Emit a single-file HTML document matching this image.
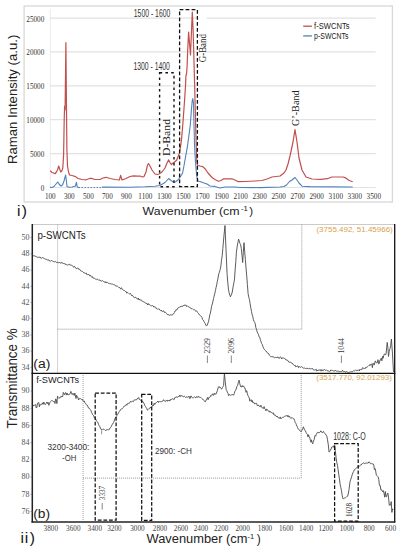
<!DOCTYPE html>
<html><head><meta charset="utf-8"><title>Raman and FTIR spectra</title>
<style>html,body{margin:0;padding:0;background:#fff;width:402px;height:550px;overflow:hidden;font-family:"Liberation Sans",sans-serif;}svg{display:block;}</style>
</head><body>
<svg width="402" height="550" viewBox="0 0 402 550">
<rect width="402" height="550" fill="#fff"/>
<rect x="24.1" y="6" width="368.3" height="196" fill="none" stroke="#d8d8d8" stroke-width="1.3"/>
<line x1="50.3" y1="9" x2="50.3" y2="188" stroke="#ececec" stroke-width="1"/>
<line x1="50.3" y1="18.1" x2="375.7" y2="18.1" stroke="#e2e2e2" stroke-width="1.2"/>
<line x1="50.3" y1="51.9" x2="375.7" y2="51.9" stroke="#e2e2e2" stroke-width="1.2"/>
<line x1="50.3" y1="85.8" x2="375.7" y2="85.8" stroke="#e2e2e2" stroke-width="1.2"/>
<line x1="50.3" y1="119.7" x2="375.7" y2="119.7" stroke="#e2e2e2" stroke-width="1.2"/>
<line x1="50.3" y1="153.6" x2="375.7" y2="153.6" stroke="#e2e2e2" stroke-width="1.2"/>
<line x1="50.3" y1="187.5" x2="375.7" y2="187.5" stroke="#e2e2e2" stroke-width="1.2"/>
<text x="44.3" y="21.5" font-family="'Liberation Serif', serif" font-size="7.2" fill="#333" text-anchor="end">25000</text>
<text x="44.3" y="55.3" font-family="'Liberation Serif', serif" font-size="7.2" fill="#333" text-anchor="end">20000</text>
<text x="44.3" y="89.2" font-family="'Liberation Serif', serif" font-size="7.2" fill="#333" text-anchor="end">15000</text>
<text x="44.3" y="123.1" font-family="'Liberation Serif', serif" font-size="7.2" fill="#333" text-anchor="end">10000</text>
<text x="44.3" y="157.0" font-family="'Liberation Serif', serif" font-size="7.2" fill="#333" text-anchor="end">5000</text>
<text x="44.3" y="190.9" font-family="'Liberation Serif', serif" font-size="7.2" fill="#333" text-anchor="end">0</text>
<text x="50.3" y="198.9" font-family="'Liberation Serif', serif" font-size="7.2" fill="#333" text-anchor="middle">100</text>
<text x="69.3" y="198.9" font-family="'Liberation Serif', serif" font-size="7.2" fill="#333" text-anchor="middle">300</text>
<text x="88.4" y="198.9" font-family="'Liberation Serif', serif" font-size="7.2" fill="#333" text-anchor="middle">500</text>
<text x="107.4" y="198.9" font-family="'Liberation Serif', serif" font-size="7.2" fill="#333" text-anchor="middle">700</text>
<text x="126.4" y="198.9" font-family="'Liberation Serif', serif" font-size="7.2" fill="#333" text-anchor="middle">900</text>
<text x="145.4" y="198.9" font-family="'Liberation Serif', serif" font-size="7.2" fill="#333" text-anchor="middle">1100</text>
<text x="164.5" y="198.9" font-family="'Liberation Serif', serif" font-size="7.2" fill="#333" text-anchor="middle">1300</text>
<text x="183.5" y="198.9" font-family="'Liberation Serif', serif" font-size="7.2" fill="#333" text-anchor="middle">1500</text>
<text x="202.5" y="198.9" font-family="'Liberation Serif', serif" font-size="7.2" fill="#333" text-anchor="middle">1700</text>
<text x="221.6" y="198.9" font-family="'Liberation Serif', serif" font-size="7.2" fill="#333" text-anchor="middle">1900</text>
<text x="240.6" y="198.9" font-family="'Liberation Serif', serif" font-size="7.2" fill="#333" text-anchor="middle">2100</text>
<text x="259.6" y="198.9" font-family="'Liberation Serif', serif" font-size="7.2" fill="#333" text-anchor="middle">2300</text>
<text x="278.7" y="198.9" font-family="'Liberation Serif', serif" font-size="7.2" fill="#333" text-anchor="middle">2500</text>
<text x="297.7" y="198.9" font-family="'Liberation Serif', serif" font-size="7.2" fill="#333" text-anchor="middle">2700</text>
<text x="316.7" y="198.9" font-family="'Liberation Serif', serif" font-size="7.2" fill="#333" text-anchor="middle">2900</text>
<text x="335.8" y="198.9" font-family="'Liberation Serif', serif" font-size="7.2" fill="#333" text-anchor="middle">3100</text>
<text x="354.8" y="198.9" font-family="'Liberation Serif', serif" font-size="7.2" fill="#333" text-anchor="middle">3300</text>
<text x="373.8" y="198.9" font-family="'Liberation Serif', serif" font-size="7.2" fill="#333" text-anchor="middle">3500</text>
<polyline points="50.2,170.6 52.0,172.5 55.4,173.6 57.5,170.0 58.7,166.0 60.0,170.0 60.7,172.0 61.8,171.0 62.8,168.0 63.6,155.0 64.2,120.0 64.6,106.0 65.1,110.0 65.9,42.6 66.4,100.0 66.9,150.0 67.5,166.0 68.5,172.0 69.6,175.0 72.0,175.5 75.6,176.6 78.0,178.5 82.0,179.5 86.0,179.8 90.5,178.2 95.0,179.5 100.0,179.5 103.0,178.0 106.0,177.3 110.0,178.5 115.0,179.5 119.4,180.0 120.6,175.4 122.0,180.0 126.0,178.5 130.0,176.5 133.6,175.8 137.0,176.2 140.0,176.0 142.0,176.8 144.0,176.6 146.0,172.0 147.5,165.0 148.5,163.6 150.0,166.0 152.0,170.0 155.0,174.0 157.0,174.3 159.0,174.0 162.0,172.0 165.0,168.0 167.0,163.0 168.7,159.9 170.0,162.5 171.4,164.6 173.0,163.0 174.0,162.5 176.6,160.3 179.6,152.6 181.5,139.9 183.0,122.0 184.6,100.0 185.5,86.0 185.9,76.0 186.6,73.5 187.1,66.0 187.7,50.0 188.6,32.1 190.5,55.0 192.3,12.0 193.1,30.0 194.4,76.0 195.7,127.0 196.6,158.0 197.5,165.0 198.0,165.5 200.0,166.0 202.8,166.6 205.0,168.7 208.0,173.0 212.0,177.5 215.0,179.5 218.4,181.3 221.0,180.5 223.7,178.8 231.9,178.8 235.0,180.0 237.8,181.6 245.0,181.5 255.0,181.0 262.0,180.5 267.0,179.0 272.0,177.0 280.0,176.0 284.0,173.0 286.0,170.0 288.0,164.0 290.0,156.0 293.0,142.0 295.0,129.6 297.0,142.0 299.0,158.0 302.0,170.0 306.0,177.0 312.0,179.0 320.5,179.3 327.4,178.7 331.8,177.0 343.1,177.0 345.7,177.9 349.2,180.5 352.7,181.7" fill="none" stroke="#c0504d" stroke-width="1.2" stroke-linejoin="round"/>
<polyline points="49.9,187.4 52.0,187.5 54.0,186.5 56.0,184.0 57.7,182.0 59.0,184.0 61.0,186.0 62.5,185.0 64.0,181.0 65.6,175.0 66.3,180.0 67.0,186.5 69.0,187.2 72.0,187.0 75.5,186.0 76.4,182.2 77.3,187.0 79.0,187.5" fill="none" stroke="#4f81bd" stroke-width="1.1" stroke-linejoin="round"/>
<line x1="78.5" y1="187.6" x2="102" y2="187.6" stroke="#4f81bd" stroke-width="1" stroke-dasharray="1.5,1.5"/>
<polyline points="102.0,187.1 130.0,187.2 145.0,186.8 155.0,186.2 160.0,185.5 165.0,182.5 168.7,178.5 171.0,180.5 174.0,182.5 176.0,181.5 178.0,180.0 180.8,176.0 182.6,173.0 184.3,164.0 187.4,146.7 190.3,125.0 191.4,110.0 192.2,101.0 192.8,98.6 193.5,103.0 193.9,121.0 194.6,146.7 195.5,162.0 196.7,176.0 198.0,181.0 200.0,181.5 204.0,183.0 207.0,184.0 210.0,186.0 215.0,186.4 220.0,188.0 225.0,187.0 235.0,187.0 240.0,187.5 260.0,187.6 280.0,187.0 284.0,186.5 286.5,185.0 289.5,181.5 292.0,180.0 295.0,177.5 297.0,180.0 299.0,183.0 302.0,186.2 310.0,186.6 352.7,187.0" fill="none" stroke="#4f81bd" stroke-width="1.1" stroke-linejoin="round"/>
<rect x="159.6" y="72.8" width="14.4" height="113.9" fill="none" stroke="#111" stroke-width="1.4" stroke-dasharray="2.6,3.2"/>
<rect x="179.6" y="9.7" width="17.8" height="177" fill="none" stroke="#111" stroke-width="1.3" stroke-dasharray="3.8,2.2"/>
<text x="133.8" y="16.7" font-family="'Liberation Sans', sans-serif" font-size="10.2" fill="#333" textLength="36.5" lengthAdjust="spacingAndGlyphs">1500 - 1600</text>
<text x="133.4" y="69.8" font-family="'Liberation Sans', sans-serif" font-size="10.2" fill="#333" textLength="36.5" lengthAdjust="spacingAndGlyphs">1300 - 1400</text>
<rect x="162.5" y="117" width="9" height="40" fill="#fff"/>
<text transform="translate(170.3,156) rotate(-90)" font-family="'Liberation Serif', serif" font-size="10.8" fill="#222" textLength="37" lengthAdjust="spacingAndGlyphs">D-Band</text>
<rect x="198.3" y="12" width="8.5" height="54" fill="#fff"/>
<text transform="translate(205.6,62.3) rotate(-90)" font-family="'Liberation Serif', serif" font-size="9.6" fill="#222" textLength="28.3" lengthAdjust="spacingAndGlyphs">G-Band</text>
<rect x="291.5" y="90" width="8" height="36" fill="#fff"/>
<text transform="translate(298.5,126) rotate(-90)" font-family="'Liberation Serif', serif" font-size="10.5" fill="#222" textLength="35.6" lengthAdjust="spacingAndGlyphs">G’-Band</text>
<line x1="303.2" y1="26.2" x2="311.9" y2="26.2" stroke="#c0504d" stroke-width="1.3"/>
<line x1="303.2" y1="35.9" x2="311.9" y2="35.9" stroke="#4f81bd" stroke-width="1.3"/>
<text x="314.1" y="29.2" font-family="'Liberation Sans', sans-serif" font-size="8.5" fill="#222" textLength="35.4" lengthAdjust="spacingAndGlyphs">f-SWCNTs</text>
<text x="314.1" y="38.9" font-family="'Liberation Sans', sans-serif" font-size="8.5" fill="#222" textLength="34.3" lengthAdjust="spacingAndGlyphs">p-SWCNTs</text>
<text transform="translate(17.4,164.1) rotate(-90)" font-family="'Liberation Sans', sans-serif" font-size="13.3" fill="#222" textLength="129.4" lengthAdjust="spacingAndGlyphs">Raman Intensity (a.u.)</text>
<text x="142.6" y="214.6" font-family="'Liberation Sans', sans-serif" font-size="11.5" fill="#222" textLength="97" lengthAdjust="spacingAndGlyphs">Wavenumber (cm</text>
<text x="241" y="210.9" font-family="'Liberation Sans', sans-serif" font-size="7.8" fill="#222">-1</text>
<text x="249.2" y="214.6" font-family="'Liberation Sans', sans-serif" font-size="11.5" fill="#222">)</text>
<text x="17.1 21.7" y="216.2" font-family="'Liberation Sans', sans-serif" font-size="15.5" fill="#111">i)</text>
<line x1="32.5" y1="224.5" x2="394.5" y2="224.5" stroke="#8a8a8a" stroke-width="0.9" stroke-dasharray="1,1"/>
<polyline points="57.6,224.5 57.6,373 " fill="none" stroke="#999" stroke-width="0.9" stroke-dasharray="1,1"/>
<polyline points="57.6,329.2 301.8,329.2 301.8,224.5" fill="none" stroke="#8a8a8a" stroke-width="0.9" stroke-dasharray="1,1"/>
<polyline points="83.1,373 83.1,521" fill="none" stroke="#999" stroke-width="0.9" stroke-dasharray="1,1"/>
<polyline points="83.1,478.1 301.2,478.1 301.2,373" fill="none" stroke="#8a8a8a" stroke-width="0.9" stroke-dasharray="1,1"/>
<polyline points="32.5,255.4 33.1,255.9 33.8,255.7 34.4,255.9 35.0,255.8 35.6,256.2 36.2,257.0 36.9,256.8 37.5,257.3 38.1,257.1 38.8,257.3 39.4,257.4 40.0,256.8 40.6,258.0 41.2,258.1 41.9,258.3 42.5,257.5 43.1,257.7 43.8,258.3 44.4,258.6 45.0,259.1 45.6,259.2 46.2,259.6 46.9,259.3 47.5,259.9 48.1,260.1 48.8,259.8 49.4,261.0 50.0,260.7 50.6,261.2 51.2,260.6 51.9,260.7 52.5,261.0 53.1,261.3 53.8,261.8 54.4,261.8 55.0,261.6 55.6,261.6 56.2,261.9 56.9,262.8 57.5,262.2 58.1,262.7 58.8,262.8 59.4,262.1 60.1,262.8 60.7,263.4 61.4,262.1 62.0,262.9 62.6,263.2 63.2,263.1 63.8,263.8 64.4,263.8 65.0,263.4 65.6,264.5 66.2,264.5 66.9,264.7 67.5,265.1 68.1,264.7 68.8,264.7 69.4,264.2 70.0,265.2 70.6,265.0 71.2,265.3 71.9,265.3 72.5,265.8 73.1,266.3 73.8,267.4 74.4,266.3 75.0,266.8 75.6,267.9 76.2,268.7 76.9,268.6 77.5,267.9 78.1,268.0 78.8,269.5 79.4,269.4 80.0,269.5 80.6,270.8 81.2,271.2 81.9,271.1 82.5,271.5 83.1,272.0 83.7,272.8 84.3,272.8 85.0,273.1 85.6,273.5 86.2,272.9 86.8,274.5 87.5,274.7 88.1,274.9 88.7,274.2 89.3,275.1 89.9,276.1 90.6,275.3 91.2,276.4 91.8,277.2 92.4,276.6 93.0,278.2 93.7,278.1 94.3,278.2 94.9,278.7 95.5,279.1 96.2,279.1 96.8,279.7 97.4,279.2 98.1,279.5 98.7,280.3 99.3,280.1 100.0,279.9 100.6,280.9 101.2,281.3 101.8,280.8 102.5,280.6 103.1,281.3 103.7,281.5 104.4,281.7 105.0,282.6 105.6,281.7 106.2,282.9 106.8,282.0 107.5,282.4 108.1,283.1 108.7,283.5 109.3,283.6 109.9,283.5 110.5,283.6 111.1,283.8 111.7,284.2 112.3,284.0 113.0,284.4 113.6,284.7 114.2,284.6 114.8,285.1 115.4,285.4 116.0,286.4 116.6,286.0 117.2,286.1 117.8,286.5 118.4,287.0 119.0,287.7 119.6,287.6 120.2,288.2 120.8,289.2 121.4,287.7 122.0,288.7 122.6,289.6 123.2,290.1 123.8,290.4 124.4,290.5 125.0,291.3 125.6,291.5 126.2,291.6 126.8,293.2 127.4,292.7 128.0,292.7 128.6,293.3 129.2,293.7 129.8,294.1 130.5,293.4 131.1,294.7 131.7,295.8 132.3,295.2 132.9,296.1 133.5,296.9 134.1,297.3 134.7,297.9 135.3,296.9 135.9,297.8 136.6,298.1 137.2,298.8 137.8,299.3 138.4,298.0 139.0,299.9 139.6,299.1 140.3,300.3 140.9,299.7 141.5,300.7 142.1,301.5 142.7,301.2 143.4,301.7 144.0,302.2 144.6,302.3 145.2,302.5 145.8,303.5 146.4,303.6 147.0,303.3 147.7,304.9 148.3,303.6 148.9,304.8 149.5,304.6 150.1,305.1 150.7,305.6 151.3,305.7 151.9,306.2 152.6,305.6 153.2,305.9 153.8,307.1 154.4,306.8 155.0,307.1 155.6,307.2 156.2,308.6 156.9,308.7 157.5,309.3 158.1,308.6 158.8,309.3 159.4,309.1 160.0,310.2 160.6,310.8 161.2,310.1 161.9,311.4 162.5,311.4 163.1,311.2 163.8,310.8 164.4,312.5 165.0,312.2 165.6,312.4 166.2,313.3 166.8,313.8 167.4,314.7 168.0,314.1 168.6,315.1 169.3,315.3 169.9,315.4 170.5,314.8 171.2,314.6 171.8,315.4 172.4,314.4 173.1,313.9 173.7,313.8 174.4,312.5 175.0,311.0 175.6,311.0 176.2,309.6 176.8,309.9 177.4,308.9 178.0,307.7 178.6,307.6 179.2,307.5 179.8,306.8 180.4,307.0 181.0,306.0 181.6,306.3 182.2,306.4 182.9,306.3 183.5,305.2 184.1,305.8 184.8,304.8 185.4,305.3 186.1,305.1 186.7,306.6 187.3,305.8 188.0,306.5 188.7,306.8 189.3,307.2 190.0,307.3 190.7,307.9 191.3,308.9 192.0,308.5 192.6,309.1 193.3,309.7 193.9,309.7 194.5,309.6 195.2,310.3 195.8,311.4 196.4,310.7 197.1,311.5 197.7,312.6 198.3,313.4 198.9,313.9 199.5,315.0 200.2,315.6 200.8,315.8 201.4,316.5 202.0,317.7 202.6,319.6 203.3,320.2 203.9,321.2 204.5,322.5 205.1,323.4 205.8,325.2 206.4,325.9 207.2,325.4 208.0,323.0 208.6,321.3 209.2,318.1 209.8,314.8 210.4,313.1 211.0,309.9 211.6,306.3 212.3,304.0 212.9,301.7 213.5,298.6 214.1,296.3 214.8,293.5 215.4,290.7 216.1,287.4 216.7,284.8 217.3,281.4 218.0,278.2 218.7,274.1 219.4,272.3 220.2,269.5 220.9,265.8 221.5,260.2 222.2,255.8 222.8,248.8 224.0,235.2 225.0,225.5 226.0,249.6 227.1,274.3 227.8,282.8 228.5,289.9 229.1,292.6 229.8,295.2 230.4,296.8 231.2,295.1 232.0,293.1 232.6,290.0 233.2,286.2 233.9,282.8 234.5,279.1 235.1,270.2 235.8,261.7 236.4,252.2 237.1,247.1 237.9,242.4 238.6,239.2 239.3,241.1 239.9,243.4 240.6,244.6 241.3,248.5 242.0,255.2 242.7,262.5 243.3,252.4 244.0,242.7 244.7,251.8 245.4,259.6 246.1,269.0 246.8,276.8 247.4,284.6 248.1,293.6 248.8,297.4 249.5,299.7 250.1,303.7 250.8,307.8 251.5,311.4 252.2,314.8 252.8,316.6 253.4,319.8 254.1,321.4 254.7,322.4 255.3,324.1 255.9,327.8 256.5,329.3 257.1,331.8 257.8,333.2 258.4,334.3 259.0,336.8 259.7,337.2 260.3,339.6 261.0,341.6 261.6,343.6 262.3,344.5 262.9,346.5 263.6,348.4 264.2,349.2 264.9,350.1 265.5,350.6 266.1,351.0 266.8,352.4 267.4,352.8 268.1,353.0 268.7,353.9 269.3,355.0 270.0,355.7 270.6,356.6 271.2,356.6 271.8,356.8 272.5,356.8 273.1,356.3 273.7,357.4 274.3,357.8 274.9,357.6 275.5,357.4 276.1,357.9 276.8,357.2 277.4,356.9 278.0,358.0 278.6,357.5 279.2,358.5 279.8,357.5 280.4,356.7 281.0,357.6 281.7,359.0 282.3,358.0 282.9,357.5 283.5,357.8 284.1,358.6 284.7,358.6 285.4,358.9 286.0,360.0 286.7,360.1 287.4,360.1 288.0,360.9 288.7,362.0 289.3,362.1 290.0,362.6 290.7,361.8 291.3,362.8 292.0,363.7 292.6,363.5 293.3,364.7 294.0,364.9 294.6,365.5 295.3,365.3 295.9,367.0 296.6,366.4 297.2,365.8 297.9,366.1 298.5,367.7 299.1,366.3 299.8,367.1 300.4,367.3 301.1,367.0 301.7,366.5 302.4,367.4 303.0,367.7 303.6,368.2 304.2,368.2 304.9,367.9 305.5,368.5 306.1,368.4 306.8,368.4 307.4,368.4 308.0,368.4 308.6,369.1 309.2,368.2 309.9,368.6 310.5,369.1 311.1,368.4 311.8,369.1 312.4,368.4 313.0,369.2 313.6,370.0 314.3,370.1 314.9,369.8 315.5,369.8 316.2,369.2 316.8,371.1 317.5,370.5 318.1,370.8 318.7,369.9 319.4,370.3 320.0,369.5 320.6,370.9 321.3,371.0 321.9,369.5 322.5,370.5 323.1,370.9 323.8,369.6 324.4,369.6 325.0,370.0 325.7,370.3 326.3,369.9 326.9,370.6 327.6,370.8 328.2,371.0 328.8,371.0 329.4,371.5 330.1,371.3 330.7,370.0 331.3,370.5 331.9,370.2 332.6,370.3 333.2,370.9 333.8,371.0 334.4,371.3 335.0,370.2 335.7,370.5 336.3,371.2 336.9,371.1 337.5,371.1 338.1,371.3 338.8,371.0 339.4,371.8 340.0,371.7 340.6,371.5 341.3,371.3 341.9,371.6 342.6,370.3 343.2,371.3 343.8,371.9 344.5,371.2 345.1,372.2 345.7,372.2 346.4,371.4 347.0,372.1 347.7,372.2 348.3,372.6 348.9,372.6 349.5,372.1 350.1,371.6 350.7,371.8 351.3,371.7 352.0,372.0 352.6,371.7 353.2,371.0 353.8,370.5 354.4,370.9 355.0,370.6 355.6,370.2 356.2,370.6 356.9,370.2 357.5,370.4 358.1,370.4 358.8,369.7 359.4,371.0 360.0,369.4 360.6,370.0 361.2,369.3 361.9,369.7 362.5,367.6 363.1,368.2 363.8,368.4 364.4,368.3 365.0,368.9 365.6,367.4 366.2,367.6 366.9,367.0 367.5,366.8 368.1,366.3 368.8,365.6 369.4,365.6 370.0,364.4 370.6,365.3 371.2,363.9 371.8,364.3 372.4,367.7 373.0,363.1 373.6,363.3 374.2,365.1 374.8,362.7 375.4,360.9 376.0,362.6 376.6,362.8 377.3,362.7 378.0,359.7 378.6,363.9 379.3,363.4 380.0,360.0 380.6,359.9 381.2,358.1 381.9,360.8 382.5,356.4 383.1,358.3 383.7,355.6 384.5,353.8 385.2,354.8 386.0,354.4 387.2,342.4 387.9,347.5 388.5,356.5 389.2,351.4 390.0,348.6 390.7,345.3 391.4,339.1 392.5,354.1 393.5,372.0" fill="none" stroke="#4a4a4a" stroke-width="0.9" stroke-linejoin="round"/>
<polyline points="32.5,406.4 33.1,405.4 33.8,405.7 34.4,405.0 35.0,405.2 35.6,404.5 36.2,408.0 36.9,407.3 37.5,403.2 38.1,402.8 38.8,402.5 39.4,406.9 40.0,404.3 40.6,404.8 41.2,404.3 41.9,404.4 42.5,402.8 43.1,404.4 43.8,402.0 44.4,404.0 45.0,404.5 45.6,404.5 46.2,403.3 46.9,402.0 47.5,403.5 48.1,402.3 48.8,405.3 49.4,403.9 50.0,402.3 50.6,401.5 51.3,400.8 51.9,400.2 52.5,400.8 53.1,401.6 53.8,401.6 54.4,401.4 55.0,403.5 55.6,398.9 56.3,399.7 56.9,403.6 57.5,396.1 58.2,397.7 58.8,398.4 59.5,397.9 60.1,397.9 60.7,396.5 61.4,397.0 62.0,396.1 62.6,396.9 63.3,392.4 63.9,393.7 64.5,394.8 65.2,392.9 65.8,392.6 66.4,395.1 67.1,393.0 67.7,394.8 68.4,394.9 69.0,394.1 69.7,394.3 70.3,393.2 70.9,391.4 71.6,393.7 72.2,394.6 72.9,393.2 73.5,394.0 74.2,395.5 74.8,393.1 75.4,396.0 76.0,398.5 76.6,395.3 77.2,396.9 77.8,397.0 78.5,400.0 79.3,398.6 80.0,398.9 80.6,398.6 81.2,399.3 81.8,399.7 82.5,399.4 83.1,401.1 83.7,401.3 84.3,401.0 84.9,402.9 85.5,403.3 86.1,404.4 86.7,405.2 87.3,405.2 87.9,406.6 88.5,408.1 89.1,408.0 89.7,408.7 90.4,409.6 91.0,410.8 91.7,412.6 92.4,414.3 93.1,414.9 93.7,415.9 94.4,417.8 95.0,417.7 95.6,418.7 96.2,420.2 96.8,421.3 97.4,421.7 98.0,422.8 98.6,424.6 99.2,425.8 99.8,426.4 100.4,428.0 101.6,430.0 102.2,430.0 102.8,429.4 103.4,429.1 104.1,429.3 104.9,430.1 105.6,430.6 106.2,429.8 106.8,430.2 107.4,429.4 108.0,429.7 108.6,429.9 109.3,429.5 110.1,427.9 110.8,427.3 111.4,426.3 112.0,424.6 112.6,424.2 113.2,422.9 113.8,422.3 114.5,419.9 115.3,417.8 116.0,416.9 116.6,416.0 117.3,414.7 117.9,414.3 118.5,412.8 119.2,411.6 119.8,411.1 120.5,409.6 121.1,409.3 121.8,408.9 122.4,408.6 123.1,407.5 123.7,407.0 124.4,406.0 125.0,405.7 125.7,405.6 126.3,404.3 126.9,405.2 127.5,403.6 128.2,403.5 128.8,403.3 129.4,403.3 130.0,402.0 130.7,401.2 131.3,402.0 132.0,401.6 132.7,401.2 133.4,401.6 134.0,400.2 134.7,399.8 135.4,399.9 136.0,399.5 136.7,399.8 137.4,398.4 138.0,398.6 138.7,397.5 139.3,399.4 139.9,399.3 140.6,400.2 141.2,401.2 141.8,400.7 142.4,401.0 143.0,402.0 143.7,402.9 144.3,404.1 144.9,405.7 145.5,406.6 146.2,407.7 146.8,408.6 147.4,410.2 148.0,409.6 148.6,408.9 149.2,408.8 149.9,408.1 150.5,407.0 151.1,408.2 151.7,407.0 152.3,405.5 153.0,406.1 153.6,405.0 154.2,403.2 154.8,404.5 155.5,403.1 156.1,402.8 156.7,402.3 157.3,402.0 158.0,401.0 158.6,402.4 159.2,401.8 159.8,401.5 160.5,401.7 161.1,401.5 161.7,401.7 162.3,401.0 162.9,401.1 163.6,399.7 164.2,400.6 164.8,401.2 165.4,401.5 166.1,400.3 166.7,400.4 167.3,401.3 167.9,400.0 168.6,400.6 169.2,401.0 169.8,399.9 170.4,400.4 171.0,399.0 171.7,399.3 172.3,398.9 172.9,398.8 173.5,399.2 174.1,399.7 174.8,397.6 175.4,397.4 176.0,397.8 176.6,396.7 177.2,397.3 177.8,397.2 178.5,396.4 179.1,396.7 179.7,395.2 180.3,396.6 180.9,395.3 181.6,395.8 182.2,396.0 182.8,396.1 183.4,396.9 184.0,396.5 184.7,396.3 185.3,396.9 185.9,397.6 186.5,396.7 187.1,397.0 187.8,397.5 188.4,397.0 189.0,396.1 189.6,398.5 190.3,398.3 190.9,395.9 191.5,397.1 192.1,397.4 192.7,397.8 193.4,397.7 194.0,397.2 194.6,396.8 195.2,397.5 195.8,398.0 196.4,396.7 197.0,396.8 197.6,397.4 198.2,396.2 198.8,397.2 199.4,397.1 200.0,397.7 200.6,397.4 201.2,397.8 201.9,398.6 202.5,399.2 203.1,399.3 203.8,400.2 204.4,401.1 205.0,401.8 205.6,401.6 206.2,399.6 206.8,399.3 207.5,397.5 208.1,399.7 208.7,397.6 209.3,397.5 209.9,397.3 210.6,395.6 211.2,396.2 211.8,395.4 212.4,393.8 213.0,394.9 213.7,395.2 214.3,393.1 214.9,394.5 215.6,393.9 216.2,393.9 216.8,392.0 217.4,390.7 218.1,387.9 218.7,386.7 219.3,386.6 219.9,387.9 220.5,387.6 221.1,388.6 221.7,389.1 222.3,387.7 223.0,386.7 223.6,385.5 224.4,373.2 225.2,381.3 226.1,389.3 226.7,390.5 227.3,392.1 228.0,393.3 228.6,395.7 229.2,394.7 229.8,394.6 230.5,395.4 231.1,394.9 231.7,394.7 232.3,394.6 233.0,394.7 233.6,395.3 234.2,393.6 234.9,391.2 235.5,390.7 236.2,389.0 236.8,386.8 237.6,385.5 238.3,382.6 239.1,380.2 239.7,383.2 240.4,385.9 241.0,387.0 241.6,387.0 242.2,385.5 242.8,386.8 243.6,385.9 244.3,387.6 244.9,387.9 245.5,390.1 246.1,392.3 246.7,390.7 247.3,393.3 247.9,395.5 248.6,396.7 249.2,397.9 249.8,401.2 250.4,400.4 251.0,399.6 251.7,401.7 252.3,400.4 252.9,402.7 253.5,402.0 254.1,402.9 254.7,404.0 255.3,403.7 256.0,403.1 256.6,403.3 257.2,405.6 257.8,405.6 258.4,404.9 259.1,406.3 259.7,406.4 260.3,406.8 260.9,405.2 261.6,406.8 262.2,407.9 262.8,408.1 263.4,408.5 264.1,406.6 264.7,408.7 265.3,409.2 265.9,410.9 266.6,408.9 267.2,409.6 267.8,410.2 268.4,411.2 269.1,410.8 269.7,412.2 270.3,411.4 270.9,412.5 271.5,412.4 272.1,413.2 272.8,413.1 273.4,412.9 274.0,415.1 274.6,415.0 275.2,414.9 275.9,415.9 276.5,416.8 277.1,416.0 277.7,417.0 278.4,417.9 279.0,418.4 279.6,418.3 280.2,416.9 280.9,418.9 281.5,418.1 282.1,417.7 282.7,417.3 283.4,417.4 284.0,416.8 284.6,416.2 285.2,416.1 285.9,416.0 286.5,415.8 287.1,415.2 287.7,416.7 288.3,415.6 289.0,417.2 289.6,416.3 290.2,417.5 290.8,418.4 291.4,417.9 292.1,417.5 292.7,418.3 293.3,418.6 293.9,418.6 294.6,420.6 295.2,422.4 295.8,423.2 296.4,424.8 297.1,426.5 297.7,427.8 298.3,429.1 299.0,429.8 299.7,430.1 300.4,431.1 301.1,431.8 301.9,430.4 302.6,429.1 303.4,426.8 304.1,428.8 304.7,430.1 305.4,430.6 306.0,432.3 306.7,433.7 307.3,434.3 307.9,436.8 308.5,434.7 309.1,437.3 309.7,437.2 310.3,440.1 310.9,442.2 311.5,439.8 312.1,442.6 312.7,443.8 313.5,441.1 314.2,439.5 315.0,435.5 315.7,436.2 316.3,434.4 317.0,432.8 317.6,432.3 318.3,433.1 318.9,432.2 319.6,432.6 320.2,432.1 320.8,430.8 321.5,432.2 322.1,432.3 322.8,432.6 323.4,431.4 324.1,432.5 324.8,433.5 325.4,433.8 326.1,435.1 326.8,436.1 327.5,439.8 328.3,444.7 329.0,452.1 329.7,451.5 330.4,450.1 331.1,449.0 331.8,447.0 332.5,446.6 333.2,447.3 333.9,445.7 334.6,444.8 335.3,450.4 336.1,457.8 336.8,462.6 337.5,465.3 338.1,469.7 338.8,474.8 339.4,478.6 340.1,484.2 340.8,487.4 341.5,490.8 342.2,495.6 342.9,498.7 343.6,498.6 344.3,498.2 345.0,497.7 345.7,497.6 346.4,497.0 347.0,496.4 347.7,496.1 348.4,493.0 349.0,489.7 350.0,481.7 350.8,479.2 351.6,476.8 352.4,474.1 353.0,472.6 353.6,471.5 354.3,469.9 354.9,469.6 355.5,468.8 356.1,468.4 356.7,467.6 357.4,467.1 358.0,467.2 358.6,466.3 359.3,466.2 359.9,465.7 360.6,465.1 361.2,465.1 361.9,463.8 362.5,463.5 363.2,462.9 363.8,462.8 364.4,463.7 365.1,463.7 365.7,462.9 366.3,463.0 366.9,463.2 367.5,463.0 368.2,463.1 368.8,461.9 369.4,462.1 370.0,463.0 370.7,463.8 371.3,463.6 371.9,463.6 372.6,463.9 373.2,463.9 373.8,465.2 374.4,469.6 375.1,468.6 375.7,471.0 376.3,475.1 376.9,475.6 377.5,476.3 378.2,476.8 378.8,479.7 379.4,485.3 380.2,485.4 380.9,490.0 381.7,489.8 382.5,491.7 383.2,490.6 384.0,493.2 384.7,497.2 385.3,491.5 386.0,496.8 386.7,496.6 387.3,493.5 388.0,493.2 388.7,499.1 389.3,505.4 390.0,504.7 390.6,505.3 391.2,501.6 391.9,512.4 392.5,508.8 393.1,510.0" fill="none" stroke="#4a4a4a" stroke-width="0.9" stroke-linejoin="round"/>
<line x1="32.3" y1="224" x2="32.3" y2="522.6" stroke="#222" stroke-width="1.5"/>
<line x1="394.7" y1="224" x2="394.7" y2="522.6" stroke="#111" stroke-width="1.3"/>
<line x1="31.5" y1="373.3" x2="395.3" y2="373.3" stroke="#111" stroke-width="1.3"/>
<line x1="31.5" y1="522" x2="395.3" y2="522" stroke="#222" stroke-width="1.3"/>
<text x="29.6" y="239.9" font-family="'Liberation Serif', serif" font-size="9" fill="#555" text-anchor="end" textLength="8" lengthAdjust="spacingAndGlyphs">50</text>
<line x1="30.6" y1="237.7" x2="32.3" y2="237.7" stroke="#666" stroke-width="0.7"/>
<text x="29.6" y="256.1" font-family="'Liberation Serif', serif" font-size="9" fill="#555" text-anchor="end" textLength="8" lengthAdjust="spacingAndGlyphs">48</text>
<line x1="30.6" y1="253.9" x2="32.3" y2="253.9" stroke="#666" stroke-width="0.7"/>
<text x="29.6" y="272.3" font-family="'Liberation Serif', serif" font-size="9" fill="#555" text-anchor="end" textLength="8" lengthAdjust="spacingAndGlyphs">46</text>
<line x1="30.6" y1="270.1" x2="32.3" y2="270.1" stroke="#666" stroke-width="0.7"/>
<text x="29.6" y="288.5" font-family="'Liberation Serif', serif" font-size="9" fill="#555" text-anchor="end" textLength="8" lengthAdjust="spacingAndGlyphs">44</text>
<line x1="30.6" y1="286.3" x2="32.3" y2="286.3" stroke="#666" stroke-width="0.7"/>
<text x="29.6" y="304.7" font-family="'Liberation Serif', serif" font-size="9" fill="#555" text-anchor="end" textLength="8" lengthAdjust="spacingAndGlyphs">42</text>
<line x1="30.6" y1="302.5" x2="32.3" y2="302.5" stroke="#666" stroke-width="0.7"/>
<text x="29.6" y="320.9" font-family="'Liberation Serif', serif" font-size="9" fill="#555" text-anchor="end" textLength="8" lengthAdjust="spacingAndGlyphs">40</text>
<line x1="30.6" y1="318.7" x2="32.3" y2="318.7" stroke="#666" stroke-width="0.7"/>
<text x="29.6" y="337.1" font-family="'Liberation Serif', serif" font-size="9" fill="#555" text-anchor="end" textLength="8" lengthAdjust="spacingAndGlyphs">38</text>
<line x1="30.6" y1="334.9" x2="32.3" y2="334.9" stroke="#666" stroke-width="0.7"/>
<text x="29.6" y="353.3" font-family="'Liberation Serif', serif" font-size="9" fill="#555" text-anchor="end" textLength="8" lengthAdjust="spacingAndGlyphs">36</text>
<line x1="30.6" y1="351.1" x2="32.3" y2="351.1" stroke="#666" stroke-width="0.7"/>
<text x="29.6" y="369.5" font-family="'Liberation Serif', serif" font-size="9" fill="#555" text-anchor="end" textLength="8" lengthAdjust="spacingAndGlyphs">34</text>
<line x1="30.6" y1="367.3" x2="32.3" y2="367.3" stroke="#666" stroke-width="0.7"/>
<text x="29.6" y="393.3" font-family="'Liberation Serif', serif" font-size="9" fill="#555" text-anchor="end" textLength="8" lengthAdjust="spacingAndGlyphs">90</text>
<line x1="30.6" y1="391.1" x2="32.3" y2="391.1" stroke="#666" stroke-width="0.7"/>
<text x="29.6" y="410.5" font-family="'Liberation Serif', serif" font-size="9" fill="#555" text-anchor="end" textLength="8" lengthAdjust="spacingAndGlyphs">88</text>
<line x1="30.6" y1="408.3" x2="32.3" y2="408.3" stroke="#666" stroke-width="0.7"/>
<text x="29.6" y="427.7" font-family="'Liberation Serif', serif" font-size="9" fill="#555" text-anchor="end" textLength="8" lengthAdjust="spacingAndGlyphs">86</text>
<line x1="30.6" y1="425.5" x2="32.3" y2="425.5" stroke="#666" stroke-width="0.7"/>
<text x="29.6" y="444.9" font-family="'Liberation Serif', serif" font-size="9" fill="#555" text-anchor="end" textLength="8" lengthAdjust="spacingAndGlyphs">84</text>
<line x1="30.6" y1="442.7" x2="32.3" y2="442.7" stroke="#666" stroke-width="0.7"/>
<text x="29.6" y="462.1" font-family="'Liberation Serif', serif" font-size="9" fill="#555" text-anchor="end" textLength="8" lengthAdjust="spacingAndGlyphs">82</text>
<line x1="30.6" y1="459.9" x2="32.3" y2="459.9" stroke="#666" stroke-width="0.7"/>
<text x="29.6" y="479.3" font-family="'Liberation Serif', serif" font-size="9" fill="#555" text-anchor="end" textLength="8" lengthAdjust="spacingAndGlyphs">80</text>
<line x1="30.6" y1="477.1" x2="32.3" y2="477.1" stroke="#666" stroke-width="0.7"/>
<text x="29.6" y="496.5" font-family="'Liberation Serif', serif" font-size="9" fill="#555" text-anchor="end" textLength="8" lengthAdjust="spacingAndGlyphs">78</text>
<line x1="30.6" y1="494.3" x2="32.3" y2="494.3" stroke="#666" stroke-width="0.7"/>
<text x="29.6" y="513.7" font-family="'Liberation Serif', serif" font-size="9" fill="#555" text-anchor="end" textLength="8" lengthAdjust="spacingAndGlyphs">76</text>
<line x1="30.6" y1="511.5" x2="32.3" y2="511.5" stroke="#666" stroke-width="0.7"/>
<text x="50.8" y="531.2" font-family="'Liberation Serif', serif" font-size="8.5" fill="#444" text-anchor="middle" textLength="14.4" lengthAdjust="spacingAndGlyphs">3800</text>
<text x="73.3" y="531.2" font-family="'Liberation Serif', serif" font-size="8.5" fill="#444" text-anchor="middle" textLength="14.4" lengthAdjust="spacingAndGlyphs">3600</text>
<text x="94.8" y="531.2" font-family="'Liberation Serif', serif" font-size="8.5" fill="#444" text-anchor="middle" textLength="14.4" lengthAdjust="spacingAndGlyphs">3400</text>
<text x="114.4" y="531.2" font-family="'Liberation Serif', serif" font-size="8.5" fill="#444" text-anchor="middle" textLength="14.4" lengthAdjust="spacingAndGlyphs">3200</text>
<text x="137.4" y="531.2" font-family="'Liberation Serif', serif" font-size="8.5" fill="#444" text-anchor="middle" textLength="14.4" lengthAdjust="spacingAndGlyphs">3000</text>
<text x="160" y="531.2" font-family="'Liberation Serif', serif" font-size="8.5" fill="#444" text-anchor="middle" textLength="14.4" lengthAdjust="spacingAndGlyphs">2800</text>
<text x="181" y="531.2" font-family="'Liberation Serif', serif" font-size="8.5" fill="#444" text-anchor="middle" textLength="14.4" lengthAdjust="spacingAndGlyphs">2600</text>
<text x="200.9" y="531.2" font-family="'Liberation Serif', serif" font-size="8.5" fill="#444" text-anchor="middle" textLength="14.4" lengthAdjust="spacingAndGlyphs">2400</text>
<text x="221.2" y="531.2" font-family="'Liberation Serif', serif" font-size="8.5" fill="#444" text-anchor="middle" textLength="14.4" lengthAdjust="spacingAndGlyphs">2200</text>
<text x="242.6" y="531.2" font-family="'Liberation Serif', serif" font-size="8.5" fill="#444" text-anchor="middle" textLength="14.4" lengthAdjust="spacingAndGlyphs">2000</text>
<text x="265" y="531.2" font-family="'Liberation Serif', serif" font-size="8.5" fill="#444" text-anchor="middle" textLength="14.4" lengthAdjust="spacingAndGlyphs">1800</text>
<text x="286.2" y="531.2" font-family="'Liberation Serif', serif" font-size="8.5" fill="#444" text-anchor="middle" textLength="14.4" lengthAdjust="spacingAndGlyphs">1600</text>
<text x="306.2" y="531.2" font-family="'Liberation Serif', serif" font-size="8.5" fill="#444" text-anchor="middle" textLength="14.4" lengthAdjust="spacingAndGlyphs">1400</text>
<text x="325.6" y="531.2" font-family="'Liberation Serif', serif" font-size="8.5" fill="#444" text-anchor="middle" textLength="14.4" lengthAdjust="spacingAndGlyphs">1200</text>
<text x="346.9" y="531.2" font-family="'Liberation Serif', serif" font-size="8.5" fill="#444" text-anchor="middle" textLength="14.4" lengthAdjust="spacingAndGlyphs">1000</text>
<text x="369.2" y="531.2" font-family="'Liberation Serif', serif" font-size="8.5" fill="#444" text-anchor="middle" textLength="11" lengthAdjust="spacingAndGlyphs">800</text>
<text x="390.6" y="531.2" font-family="'Liberation Serif', serif" font-size="8.5" fill="#444" text-anchor="middle" textLength="11" lengthAdjust="spacingAndGlyphs">600</text>
<rect x="95.2" y="393" width="20.9" height="127" fill="none" stroke="#111" stroke-width="1.25" stroke-dasharray="3.8,1.8"/>
<rect x="141.7" y="394.4" width="10" height="125.9" fill="none" stroke="#111" stroke-width="1.25" stroke-dasharray="3.8,1.8"/>
<rect x="334.6" y="443.7" width="23.6" height="77.5" fill="none" stroke="#111" stroke-width="1.25" stroke-dasharray="3.8,1.8"/>
<text x="37.4" y="238.7" font-family="'Liberation Sans', sans-serif" font-size="10" fill="#222" textLength="48.3" lengthAdjust="spacingAndGlyphs">p-SWCNTs</text>
<text x="36.2" y="382.9" font-family="'Liberation Sans', sans-serif" font-size="9.5" fill="#222" textLength="42.8" lengthAdjust="spacingAndGlyphs">f-SWCNTs</text>
<text x="33.3" y="367.5" font-family="'Liberation Sans', sans-serif" font-size="12" fill="#222" textLength="17" lengthAdjust="spacingAndGlyphs">(a)</text>
<text x="33.2" y="518" font-family="'Liberation Sans', sans-serif" font-size="12" fill="#222" textLength="16.8" lengthAdjust="spacingAndGlyphs">(b)</text>
<text x="316.4" y="231.8" font-family="'Liberation Sans', sans-serif" font-size="7.5" fill="#d8a450" textLength="76.4" lengthAdjust="spacingAndGlyphs">(3755.492, 51.45966)</text>
<text x="316.3" y="380.4" font-family="'Liberation Sans', sans-serif" font-size="7.5" fill="#d8a450" textLength="75.5" lengthAdjust="spacingAndGlyphs">(3517.770, 92.01293)</text>
<text transform="translate(210.0,353.6) rotate(-90)" font-family="'Liberation Serif', serif" font-size="7.6" fill="#333" textLength="15.6" lengthAdjust="spacingAndGlyphs">2329</text>
<line x1="207.4" y1="355.5" x2="207.4" y2="363" stroke="#555" stroke-width="0.7"/>
<text transform="translate(233.9,353.6) rotate(-90)" font-family="'Liberation Serif', serif" font-size="7.6" fill="#333" textLength="15.6" lengthAdjust="spacingAndGlyphs">2096</text>
<line x1="231.3" y1="355.5" x2="231.3" y2="363" stroke="#555" stroke-width="0.7"/>
<text transform="translate(344.0,353.6) rotate(-90)" font-family="'Liberation Serif', serif" font-size="7.6" fill="#333" textLength="15.6" lengthAdjust="spacingAndGlyphs">1044</text>
<line x1="341.4" y1="355.5" x2="341.4" y2="363" stroke="#555" stroke-width="0.7"/>
<text transform="translate(104.8,500.2) rotate(-90)" font-family="'Liberation Serif', serif" font-size="7.6" fill="#222" textLength="14.4" lengthAdjust="spacingAndGlyphs">3337</text>
<line x1="101.6" y1="430.5" x2="101.6" y2="434.3" stroke="#666" stroke-width="0.7"/>
<line x1="102.2" y1="503" x2="102.2" y2="509.7" stroke="#555" stroke-width="0.7"/>
<text transform="translate(351.6,517) rotate(-90)" font-family="'Liberation Serif', serif" font-size="7.6" fill="#222" textLength="14" lengthAdjust="spacingAndGlyphs">1028</text>
<text x="47.5" y="450.2" font-family="'Liberation Sans', sans-serif" font-size="9.6" fill="#333" textLength="41.8" lengthAdjust="spacingAndGlyphs">3200-3400:</text>
<text x="62.1" y="461" font-family="'Liberation Sans', sans-serif" font-size="9.6" fill="#333" textLength="14.2" lengthAdjust="spacingAndGlyphs">-OH</text>
<text x="154.9" y="453.5" font-family="'Liberation Sans', sans-serif" font-size="9.6" fill="#333" textLength="37" lengthAdjust="spacingAndGlyphs">2900: -CH</text>
<text x="333.2" y="439.5" font-family="'Liberation Sans', sans-serif" font-size="10" fill="#333" textLength="32.6" lengthAdjust="spacingAndGlyphs">1028: C-O</text>
<text transform="translate(17,428.5) rotate(-90)" font-family="'Liberation Sans', sans-serif" font-size="14.5" fill="#222" textLength="100.2" lengthAdjust="spacingAndGlyphs">Transmittance %</text>
<text x="146.5" y="542.8" font-family="'Liberation Sans', sans-serif" font-size="12" fill="#222" textLength="101" lengthAdjust="spacingAndGlyphs">Wavenumber (cm</text>
<text x="247.6" y="538.6" font-family="'Liberation Sans', sans-serif" font-size="7.5" fill="#222">-1</text>
<text x="256.8" y="542.8" font-family="'Liberation Sans', sans-serif" font-size="12" fill="#222">)</text>
<text x="20.4 24.8 29.7" y="542.9" font-family="'Liberation Sans', sans-serif" font-size="15.5" fill="#111">ii)</text>
</svg>
</body></html>
